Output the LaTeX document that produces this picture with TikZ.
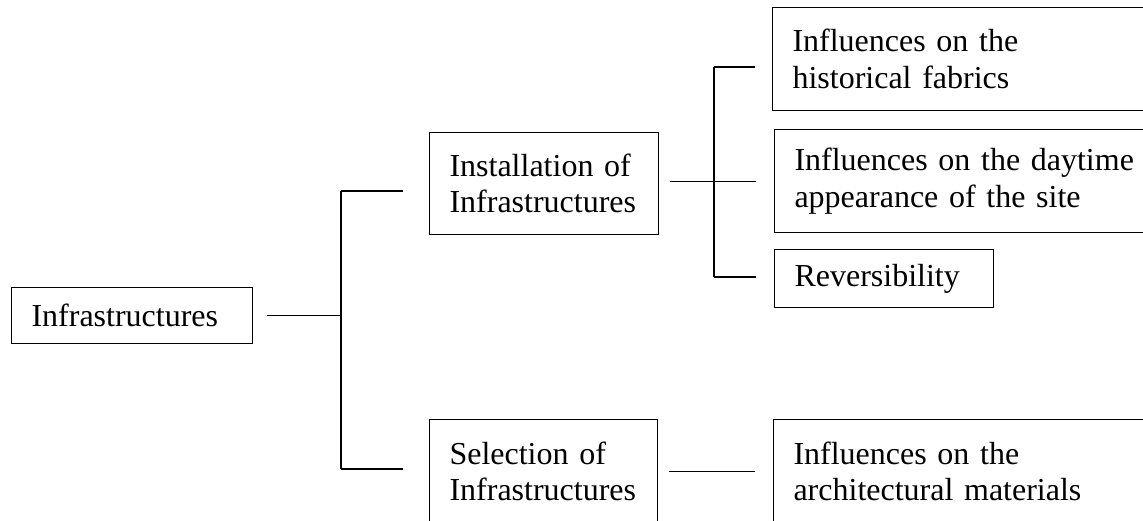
\documentclass[tikz,border=0pt]{standalone}
\usepackage{fontspec}
\setmainfont{Liberation Serif}
\usetikzlibrary{calc}
\begin{document}
\begin{tikzpicture}[x=0.75pt,y=-0.75pt,
  box/.style={draw=black, line width=0.8pt, rectangle, anchor=north west,
    inner xsep=15pt, inner ysep=0pt, align=left,
    font=\fontsize{24}{27.5}\selectfont},
  conn/.style={draw=black, line width=0.8pt}]
\clip (0,0) rectangle (1143,521);
% boxes
\node[box, minimum width=241*0.75pt, minimum height=56*0.75pt, text width=201*0.75pt] (infra) at (11,287) {Infrastructures};
\node[box, minimum width=229*0.75pt, minimum height=102*0.75pt, text width=189*0.75pt] (install) at (429,132) {Installation of\\Infrastructures};
\node[box, minimum width=228*0.75pt, minimum height=104*0.75pt, text width=188*0.75pt] (select) at (429,419) {Selection of\\Infrastructures};
\node[box, minimum width=400*0.75pt, minimum height=103*0.75pt, text width=360*0.75pt] (hist) at (772,7) {Influences on the\\historical fabrics};
\node[box, minimum width=400*0.75pt, minimum height=103*0.75pt, text width=360*0.75pt] (day) at (774,129) {Influences on the daytime\\appearance of the site};
\node[box, minimum width=219*0.75pt, minimum height=58*0.75pt, text width=179*0.75pt] (rev) at (774,249) {Reversibility};
\node[box, minimum width=400*0.75pt, minimum height=104*0.75pt, text width=360*0.75pt] (arch) at (773,419) {Influences on the\\architectural materials};
% trunks
\coordinate (t1top) at (341,191);
\coordinate (t1bot) at (341,469);
\coordinate (t2top) at (714,67);
\coordinate (t2bot) at (714,277);
\draw[conn] (t1top) -- (t1bot);
\draw[conn] ([xshift=14*0.75pt]infra.east) -- (infra.east -| t1top);
\draw[conn] (t1top) -- ([xshift=-26*0.75pt]install.west |- t1top);
\draw[conn] (t1bot) -- ([xshift=-26*0.75pt]select.west |- t1bot);
\draw[conn] (t2top) -- (t2bot);
\draw[conn] (t2top) -- ([xshift=-17*0.75pt]hist.west |- t2top);
\draw[conn] ([xshift=11*0.75pt]install.east |- day.west) -- ([xshift=-18*0.75pt]day.west);
\draw[conn] (t2bot) -- ([xshift=-18*0.75pt]rev.west |- t2bot);
\draw[conn] ([xshift=11*0.75pt]select.east |- arch.west) -- ([xshift=-18*0.75pt]arch.west);
\end{tikzpicture}
\end{document}
